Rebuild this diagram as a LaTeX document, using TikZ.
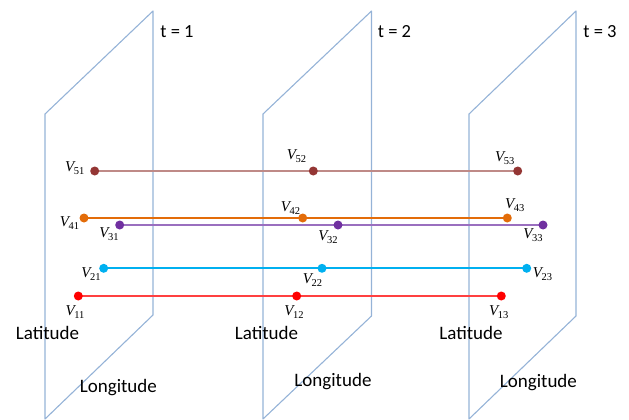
\documentclass[tikz,border=0pt]{standalone}
\usepackage{fontspec}
\setmainfont{Carlito}
\newfontfamily\vfont{Liberation Serif}
\newcommand{\vlbl}[1]{{\vfont\fontsize{15}{17}\selectfont\itshape V\kern-0.5pt\raisebox{-3.5pt}{\fontsize{10.5}{12}\selectfont\upshape #1}}}
\begin{document}
\begin{tikzpicture}[x=1pt,y=-1pt,
  plane/.style={draw=planeblue, line width=1.1pt, line join=round},
  dot/.style={circle, fill=#1, minimum size=9pt, inner sep=0pt},
  link/.style={draw=#1, line width=1.8pt},
  vlab/.style={inner sep=0pt},
  tlab/.style={inner sep=0pt, font=\fontsize{18.5}{22}\selectfont},
  axlab/.style={inner sep=0pt, font=\fontsize{19}{23}\selectfont}]
\definecolor{planeblue}{HTML}{95B3D7}
\definecolor{cbrown}{HTML}{943634}
\definecolor{lbrown}{HTML}{BF8A87}
\definecolor{corange}{HTML}{E36C09}
\definecolor{cpurple}{HTML}{7030A0}
\definecolor{lpurple}{HTML}{9A6FBF}
\definecolor{ccyan}{HTML}{00B0F0}
\definecolor{cred}{HTML}{FF0000}
\definecolor{lred}{HTML}{FF4040}
\useasboundingbox (0,0) rectangle (629,420);
% planes
\draw[plane] (45,114) -- (153,11) -- (153,315) -- (45,419) -- cycle;
\draw[plane] (263,114) -- (371.5,11) -- (371.5,316) -- (263,419) -- cycle;
\draw[plane] (469,114) -- (576,11) -- (576,316) -- (469,419) -- cycle;
% plane labels
\node[tlab] (t1) at (177,32) {t = 1};
\node[tlab] (t2) at (394.5,32) {t = 2};
\node[tlab] (t3) at (600,32) {t = 3};
\node[axlab] (lat1) at (47.5,333) {Latitude};
\node[axlab] (lat2) at (266.5,333) {Latitude};
\node[axlab] (lat3) at (471,333) {Latitude};
\node[axlab] (lon1) at (118.4,388) {Longitude};
\node[axlab] (lon2) at (333,382) {Longitude};
\node[axlab] (lon3) at (538.4,383) {Longitude};
% point positions
\coordinate (c51) at (94.7,171);
\coordinate (c52) at (313.3,171);
\coordinate (c53) at (517.7,171);
\coordinate (c41) at (84,218);
\coordinate (c42) at (302.7,218);
\coordinate (c43) at (507.3,218);
\coordinate (c31) at (119.7,225);
\coordinate (c32) at (338,225);
\coordinate (c33) at (543,225);
\coordinate (c21) at (103.7,268.3);
\coordinate (c22) at (322,268.3);
\coordinate (c23) at (526.7,268.3);
\coordinate (c11) at (78.3,296);
\coordinate (c12) at (296.7,296);
\coordinate (c13) at (501.3,296);
% connectors
\draw[link=lbrown] (c51) -- (c53);
\draw[link=corange] (c41) -- (c43);
\draw[link=lpurple] (c31) -- (c33);
\draw[link=ccyan] (c21) -- (c23);
\draw[link=lred] (c11) -- (c13);
% dots
\foreach \i in {1,2,3} {
  \node[dot=cbrown] (v5\i) at (c5\i) {};
  \node[dot=corange] (v4\i) at (c4\i) {};
  \node[dot=cpurple] (v3\i) at (c3\i) {};
  \node[dot=ccyan] (v2\i) at (c2\i) {};
  \node[dot=cred] (v1\i) at (c1\i) {};
}
% labels
\node[vlab] (l51) at (74.7,168) {\vlbl{51}};
\node[vlab] (l41) at (69.5,223) {\vlbl{41}};
\node[vlab] (l31) at (109,234) {\vlbl{31}};
\node[vlab] (l21) at (91,274) {\vlbl{21}};
\node[vlab] (l11) at (75,312) {\vlbl{11}};
\node[vlab] (l52) at (296.5,156) {\vlbl{52}};
\node[vlab] (l42) at (290.5,208) {\vlbl{42}};
\node[vlab] (l32) at (328,237) {\vlbl{32}};
\node[vlab] (l22) at (312.5,280) {\vlbl{22}};
\node[vlab] (l12) at (294,312) {\vlbl{12}};
\node[vlab] (l53) at (504.7,158) {\vlbl{53}};
\node[vlab] (l43) at (514.7,205) {\vlbl{43}};
\node[vlab] (l33) at (533,235) {\vlbl{33}};
\node[vlab] (l23) at (542.5,274) {\vlbl{23}};
\node[vlab] (l13) at (498.7,312) {\vlbl{13}};
\end{tikzpicture}
\end{document}
